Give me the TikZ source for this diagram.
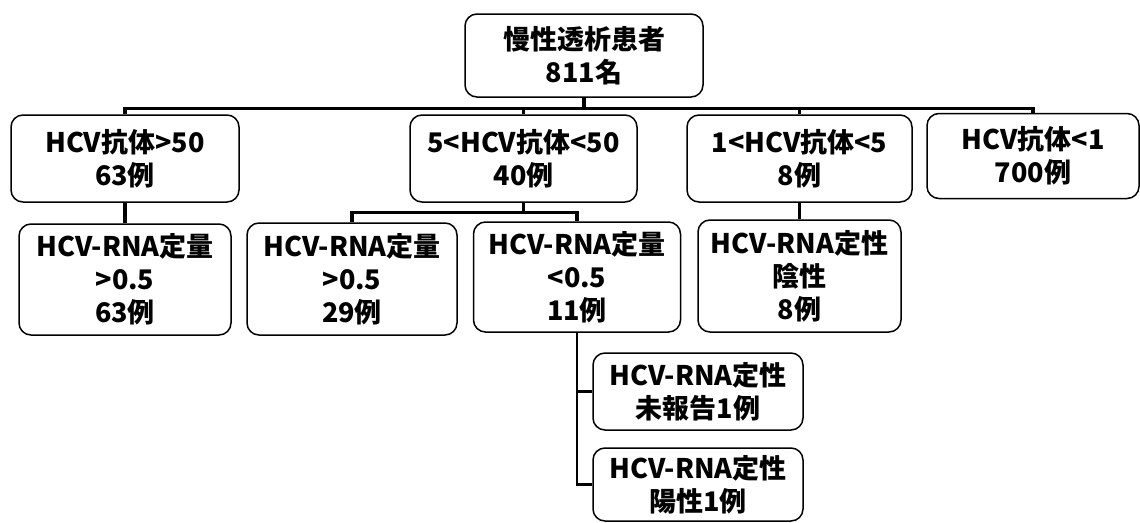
\documentclass[tikz,border=0pt]{standalone}
\usepackage{fontspec}
\newfontfamily\jpfont{Noto Sans CJK JP}
\usetikzlibrary{calc}

\begin{document}
\begin{tikzpicture}[x=1pt, y=1pt,
  box/.style={draw, rounded corners=12pt, line width=1.5pt, align=center, inner sep=0pt,
    font=\jpfont\bfseries\fontsize{27}{33}\selectfont},
  link/.style={line width=3.2pt},
  sublink/.style={line width=2.6pt}
]
  \useasboundingbox (0,0) rectangle (1140,-522);
  % All patients
  \node[box, minimum width=238, minimum height=83] (root) at (584,-55.5) {慢性透析患者\\811名};
  % HCV antibody groups
  \node[box, minimum width=228, minimum height=87] (hA) at (125,-158.5) {HCV抗体>50\\63例};
  \node[box, minimum width=227, minimum height=87] (hB) at (523.5,-158.5) {5<HCV抗体<50\\40例};
  \node[box, minimum width=225, minimum height=87] (hC) at (799.5,-158.5) {1<HCV抗体<5\\8例};
  \node[box, minimum width=212, minimum height=85] (hD) at (1033,-156) {HCV抗体<1\\700例};
  % RNA tests
  \node[box, minimum width=212, minimum height=111] (rA) at (125,-279.5) {HCV-RNA定量\\>0.5\\63例};
  \node[box, minimum width=210, minimum height=112] (rB1) at (352,-279) {HCV-RNA定量\\>0.5\\29例};
  \node[box, minimum width=207, minimum height=110] (rB2) at (577,-277) {HCV-RNA定量\\<0.5\\11例};
  \node[box, minimum width=203, minimum height=112] (rC) at (799.5,-276) {HCV-RNA定性\\陰性\\8例};
  % Qualitative results for <0.5
  \node[box, minimum width=210, minimum height=77] (qN) at (698,-391.5) {HCV-RNA定性\\未報告1例};
  \node[box, minimum width=210, minimum height=73] (qP) at (698,-484.5) {HCV-RNA定性\\陽性1例};
  % Connectors
  \foreach \n in {hA,hB,hC,hD}
    \draw[link] (root.south) -- ++(0,-11) -| (\n.north);
  \draw[link] (hA.south) -- (rA.north);
  \draw[link] (hB.south) -- ++(0,-10) -| (rB1.north);
  \draw[link] (hB.south) -- ++(0,-10) -| (rB2.north);
  \draw[sublink] (hC.south) -- (rC.north);
  \draw[sublink] (rB2.south) |- (qN.west);
  \draw[sublink] (rB2.south) |- (qP.west);
\end{tikzpicture}
\end{document}
